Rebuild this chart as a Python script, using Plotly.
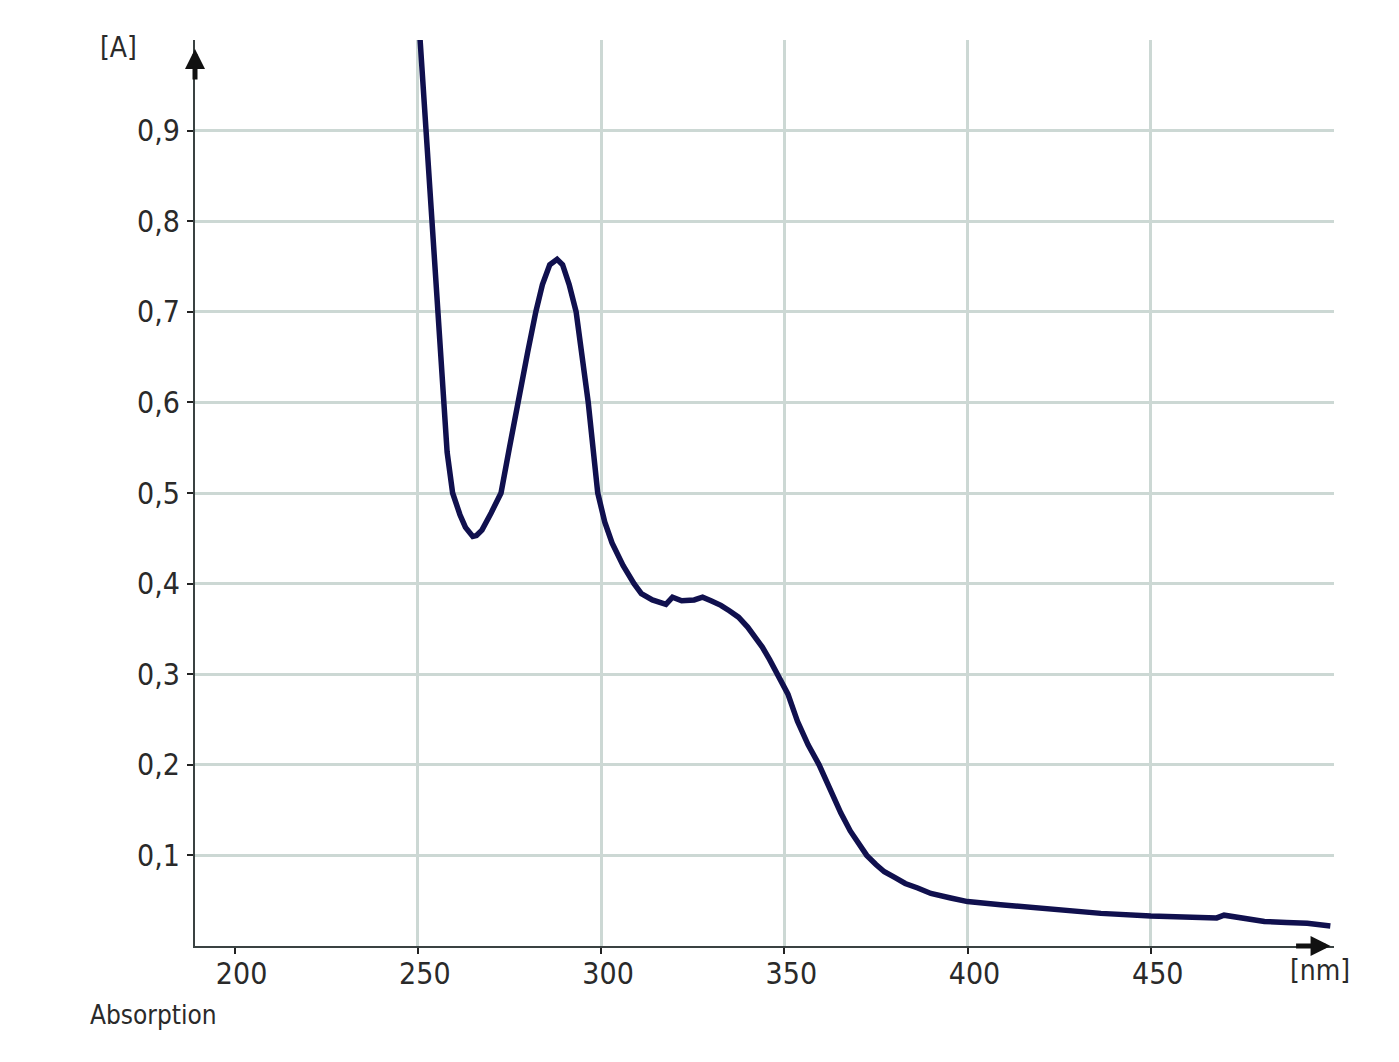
import plotly.graph_objects as go

# ---- data ----
wavelength_nm = [250.3, 252.2, 253.6, 255.0, 256.8, 258.0, 259.5, 260.5, 261.5, 263.0,
                 264.2, 265.0, 266.0, 267.5, 270.0, 272.7, 275.0, 277.2, 280.0, 282.2,
                 284.0, 286.0, 288.0, 289.5, 291.3, 293.2, 295.4, 296.5, 299.1, 301.0,
                 303.0, 306.0, 309.0, 311.0, 314.0, 317.7, 319.5, 322.0, 325.4, 327.7,
                 330.0, 332.7, 335.0, 337.5, 340.0, 342.0, 344.0, 346.0, 348.2, 351.0,
                 353.6, 356.5, 359.5, 362.5, 365.4, 368.0, 370.5, 372.5, 375.0, 377.3,
                 380.0, 383.0, 386.4, 390.0, 395.4, 400.0, 409.0, 422.7, 436.4, 450.0,
                 464.5, 468.0, 470.0, 472.7, 476.0, 481.0, 487.0, 492.7, 499.0]
absorbance = [1.02, 0.90, 0.80, 0.715, 0.60, 0.545, 0.50, 0.487, 0.476, 0.462,
              0.455, 0.452, 0.453, 0.459, 0.478, 0.50, 0.55, 0.60, 0.656, 0.70,
              0.73, 0.752, 0.758, 0.752, 0.73, 0.70, 0.628, 0.60, 0.50, 0.468,
              0.445, 0.42, 0.40, 0.389, 0.382, 0.377, 0.385, 0.381, 0.382, 0.385,
              0.381, 0.376, 0.370, 0.363, 0.352, 0.342, 0.330, 0.316, 0.300, 0.278,
              0.248, 0.222, 0.200, 0.172, 0.147, 0.127, 0.112, 0.100, 0.090, 0.082,
              0.076, 0.069, 0.064, 0.058, 0.053, 0.049, 0.0455, 0.040, 0.036, 0.033,
              0.031, 0.031, 0.034, 0.032, 0.030, 0.027, 0.026, 0.025, 0.022]

x_tick_vals = [200, 250, 300, 350, 400, 450]
x_tick_text = ["200", "250", "300", "350", "400", "450"]
x_grid_vals = [250, 300, 350, 400, 450]
y_tick_vals = [0.1, 0.2, 0.3, 0.4, 0.5, 0.6, 0.7, 0.8, 0.9]
y_tick_text = ["0,1", "0,2", "0,3", "0,4", "0,5", "0,6", "0,7", "0,8", "0,9"]
y_grid_vals = [0.1, 0.2, 0.3, 0.4, 0.5, 0.6, 0.7, 0.8, 0.9, 1.0]
x_range = [189.2, 500.0]
y_range = [0.0, 1.0]

FONT = "Liberation Sans Narrow, DejaVu Sans Condensed, Arial Narrow, sans-serif"
TXT = "#2a2a2a"
GRID = "rgb(204,216,212)"
AXIS = "#3a4242"

fig = go.Figure()
fig.add_trace(go.Scatter(
    x=wavelength_nm, y=absorbance, mode="lines",
    line=dict(color="#10104e", width=5.5), showlegend=False,
    hoverinfo="skip", xaxis="x", yaxis="y",
))

fig.update_layout(
    width=1399, height=1062,
    margin=dict(l=187, r=73, t=32, b=124),
    paper_bgcolor="white", plot_bgcolor="white",
    showlegend=False,
    # main axes: gridlines only
    xaxis=dict(range=x_range, tickmode="array", tickvals=x_grid_vals,
               showgrid=True, gridcolor=GRID, gridwidth=2.5,
               showticklabels=False, showline=False, zeroline=False, ticks=""),
    yaxis=dict(range=y_range, tickmode="array", tickvals=y_grid_vals,
               showgrid=True, gridcolor=GRID, gridwidth=2.5,
               showticklabels=False, showline=False, zeroline=False, ticks=""),
    # overlay axes: lines, ticks and labels
    xaxis2=dict(range=x_range, overlaying="x", side="bottom", anchor="y2",
                tickmode="array", tickvals=x_tick_vals, ticktext=x_tick_text,
                showgrid=False, zeroline=False, showline=True, linecolor=AXIS, linewidth=2,
                ticks="outside", ticklen=6, tickwidth=2, tickcolor="#222",
                ticklabelshift=7, ticklabelstandoff=-6,
                tickfont=dict(family=FONT, size=30, color=TXT)),
    yaxis2=dict(range=y_range, overlaying="y", side="left", anchor="x2",
                tickmode="array", tickvals=y_tick_vals, ticktext=y_tick_text,
                showgrid=False, zeroline=False, showline=True, linecolor=AXIS, linewidth=2,
                ticks="outside", ticklen=6, tickwidth=2, tickcolor="#222",
                ticklabelstandoff=1,
                tickfont=dict(family=FONT, size=30, color=TXT)),
    annotations=[
        dict(text="[A]", xref="paper", yref="paper", x=-0.0676, y=0.992,
             xanchor="center", yanchor="middle",
             showarrow=False, font=dict(family=FONT, size=28, color=TXT)),
        dict(text="[nm]", xref="paper", yref="paper", x=0.988, y=-0.0265,
             xanchor="center", yanchor="middle",
             showarrow=False, font=dict(family=FONT, size=28, color=TXT)),
        dict(text="Absorption", xref="paper", yref="paper", x=-0.094, y=-0.0762,
             xanchor="left", yanchor="middle",
             showarrow=False, font=dict(family=FONT, size=26, color=TXT)),
        dict(text="", xref="paper", yref="paper", x=0, y=0.99, ax=0, ay=32,
             showarrow=True, arrowhead=2, arrowsize=0.8, arrowwidth=5, arrowcolor="#111"),
        dict(text="", xref="paper", yref="paper", x=0.997, y=0, ax=-36, ay=0,
             showarrow=True, arrowhead=2, arrowsize=0.8, arrowwidth=5, arrowcolor="#111"),
    ],
)

# attach an invisible trace to the overlay axes so they render
fig.add_trace(go.Scatter(x=[x_range[0]], y=[y_range[0]], mode="markers",
                         marker=dict(opacity=0), xaxis="x2", yaxis="y2",
                         showlegend=False, hoverinfo="skip"))

fig.write_html("out.html")
